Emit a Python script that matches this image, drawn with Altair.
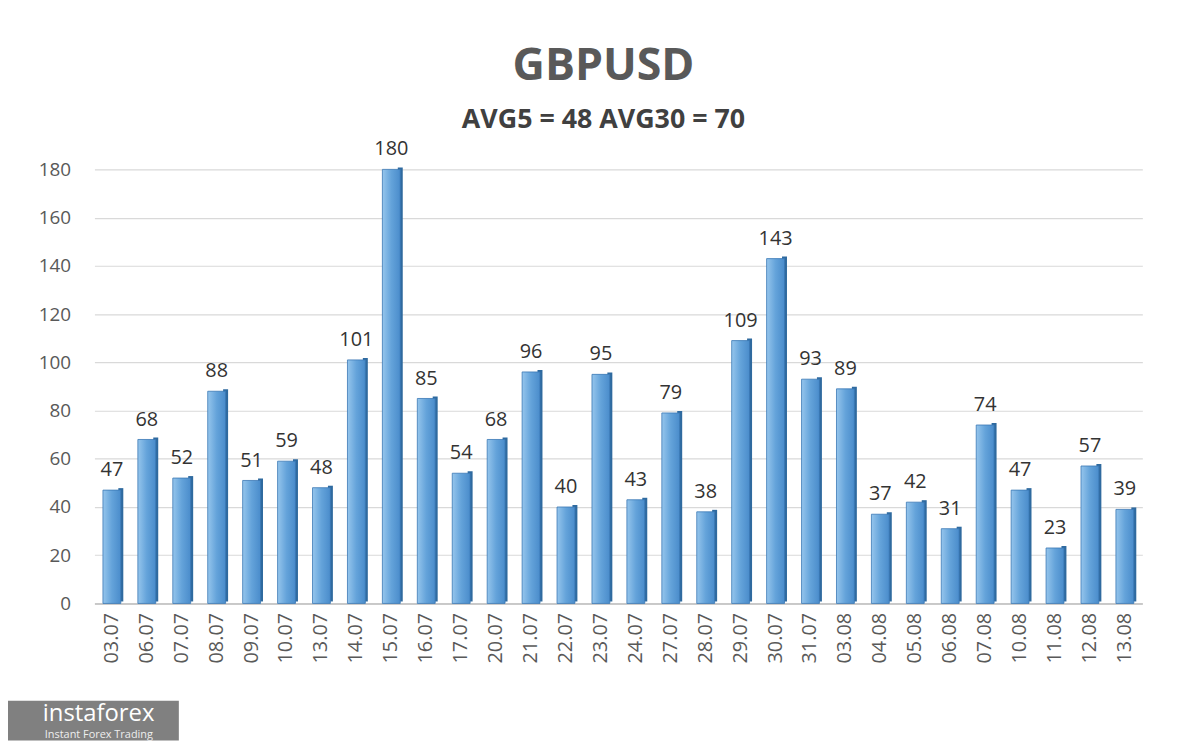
import altair as alt
import pandas as pd

dates = ["03.07", "06.07", "07.07", "08.07", "09.07", "10.07", "13.07", "14.07", "15.07", "16.07",
         "17.07", "20.07", "21.07", "22.07", "23.07", "24.07", "27.07", "28.07", "29.07", "30.07",
         "31.07", "03.08", "04.08", "05.08", "06.08", "07.08", "10.08", "11.08", "12.08", "13.08"]
values = [47, 68, 52, 88, 51, 59, 48, 101, 180, 85,
          54, 68, 96, 40, 95, 43, 79, 38, 109, 143,
          93, 89, 37, 42, 31, 74, 47, 23, 57, 39]
y_ticks = [0, 20, 40, 60, 80, 100, 120, 140, 160, 180]

df = pd.DataFrame({"date": dates, "value": values})

W, H = 1055, 437

x_enc = alt.X("date:N", sort=dates, title=None,
              scale=alt.Scale(paddingInner=0.48, paddingOuter=0.24),
              axis=alt.Axis(labelAngle=-90, labelFontSize=20, labelColor="#595959",
                            labelFont="Open Sans", labelPadding=9, ticks=False,
                            domainColor="#BFBFBF", domainWidth=1.5, grid=False))
y_enc = alt.Y("value:Q", title=None,
              scale=alt.Scale(domain=[0, 180], nice=False),
              axis=alt.Axis(values=y_ticks, labelFontSize=19, labelColor="#595959",
                            labelFont="Open Sans", labelPadding=24, ticks=False,
                            domain=False, gridColor="#D9D9D9", gridWidth=1.2))

base = alt.Chart(df)

side = base.mark_bar(size=5, xOffset=9, yOffset=-2, color="#2F6A9F").encode(
    x=x_enc, y=y_enc)

front = base.mark_bar(
    size=18,
    color=alt.Gradient(
        gradient="linear",
        stops=[alt.GradientStop(color="#95C5EC", offset=0),
               alt.GradientStop(color="#64A3DA", offset=0.5),
               alt.GradientStop(color="#4A8CCB", offset=1)],
        x1=0, x2=1, y1=0, y2=0),
    stroke="#3A78B5", strokeWidth=0.8
).encode(x=x_enc, y=y_enc)

labels = base.mark_text(baseline="bottom", dy=-10, fontSize=20, color="#333333",
                        font="Open Sans").encode(
    x=x_enc, y=y_enc, text="value:Q")

logo_box = alt.Chart(pd.DataFrame({"a": [0]})).mark_rect(color="#808080").encode(
    x=alt.value(-95), x2=alt.value(85), y=alt.value(535), y2=alt.value(575))
logo_text = alt.Chart(pd.DataFrame({"t": ["instaforex"]})).mark_text(
    align="left", baseline="alphabetic", fontSize=24, color="white", font="Open Sans").encode(
    x=alt.value(-52), y=alt.value(555), text="t:N")
logo_sub = alt.Chart(pd.DataFrame({"t": ["Instant Forex Trading"]})).mark_text(
    align="left", baseline="alphabetic", fontSize=11, color="#EEEEEE", font="Open Sans").encode(
    x=alt.value(-50), y=alt.value(572), text="t:N")

chart = alt.layer(side, front, labels, logo_box, logo_text, logo_sub).properties(
    width=W, height=H,
    view=alt.ViewBackground(strokeWidth=0, strokeOpacity=0),
    autosize=alt.AutoSizeParams(type="none"),
    padding={"left": 87, "top": 160, "right": 50, "bottom": 136},
    title=alt.TitleParams(text="GBPUSD", subtitle="AVG5 = 48 AVG30 = 70",
                          fontSize=45, font="Open Sans", fontWeight="bold", color="#595959",
                          subtitleFontSize=27, subtitleFont="Open Sans",
                          subtitleFontWeight="bold", subtitleColor="#404040",
                          subtitlePadding=18, offset=7, anchor="middle", dx=-15)
).configure_view(stroke="transparent", strokeWidth=0).configure_axisX(grid=False).configure(background="white")

chart.save("out.html", embed_options={"renderer": "svg", "actions": False})
